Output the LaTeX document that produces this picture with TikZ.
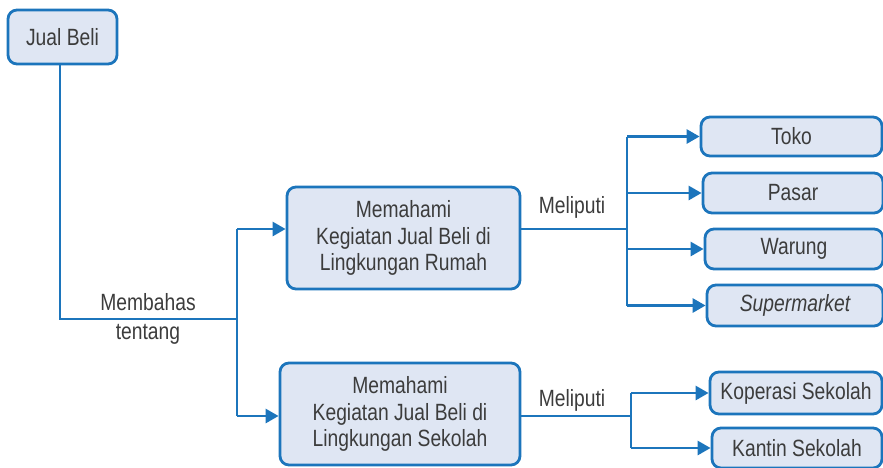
\documentclass[tikz,border=0pt]{standalone}
\usepackage{fontspec}
\setmainfont[FakeStretch=0.82]{Liberation Sans}
\newfontfamily\itfont[FakeStretch=0.82]{Liberation Sans Italic}
\usetikzlibrary{arrows.meta}
\definecolor{bblue}{HTML}{1C75BC}
\definecolor{bfill}{HTML}{DFE6F3}
\definecolor{tgray}{HTML}{3C3C3C}
\tikzset{
  box/.style={draw=bblue, line width=2.8pt, fill=bfill, rounded corners=9pt, text=tgray, align=center, inner sep=0pt, font=\fontsize{23.5}{26.5}\selectfont},
  conn/.style={draw=bblue, line width=2.8pt},
  arr/.style={conn, -{Triangle[length=13pt,width=14pt]}},
  lbl/.style={text=tgray, font=\fontsize{23.5}{26}\selectfont, inner sep=0pt}
}
\begin{document}
\begin{tikzpicture}[x=1pt,y=-1pt]
\useasboundingbox (0,0) rectangle (883,467);
% nodes
\node[box, minimum width=109pt, minimum height=54pt] (jb) at (62.5,37) {Jual Beli};
\node[box, minimum width=233pt, minimum height=102pt] (rumah) at (403.5,238) {Memahami\\Kegiatan Jual Beli di\\Lingkungan Rumah};
\node[box, minimum width=240pt, minimum height=102pt] (sekolah) at (400,414) {Memahami\\Kegiatan Jual Beli di\\Lingkungan Sekolah};
\node[box, minimum width=181pt, minimum height=39pt] (toko) at (791.5,136.5) {Toko};
\node[box, minimum width=180pt, minimum height=40pt] (pasar) at (793,193) {Pasar};
\node[box, minimum width=178pt, minimum height=40pt] (warung) at (794,249) {Warung};
\node[box, minimum width=176pt, minimum height=41pt] (super) at (795,305.5) {\itfont Supermarket};
\node[box, minimum width=172pt, minimum height=42pt] (kop) at (796,393) {Koperasi Sekolah};
\node[box, minimum width=170pt, minimum height=40pt] (kantin) at (797,448) {Kantin Sekolah};
% coordinates
\coordinate (c1) at (60,319);
\coordinate (c2) at (237,319);
\coordinate (ry) at (627,229);
\coordinate (sy) at (631,416);
% left connectors
\draw[conn] (jb.south -| c1) -- (c1) -- (c2);
\draw[conn] (c2 |- ry) -- (c2 |- sy);
\draw[arr] (c2 |- ry) -- (rumah.west |- ry);
\draw[arr] (c2 |- sy) -- (sekolah.west |- sy);
\node[lbl] (mb) at (148,302) {Membahas};
\node[lbl] (tt) at (148,334) {tentang};
% rumah branch
\draw[conn] (rumah.east |- ry) -- (ry);
\node[lbl] (m1) at (572,207) {Meliputi};
\draw[conn] (ry |- toko.west) -- (ry |- super.west);
\draw[arr] (ry |- toko.west) -- (toko.west);
\draw[arr] (ry |- pasar.west) -- (pasar.west);
\draw[arr] (ry |- warung.west) -- (warung.west);
\draw[arr] (ry |- super.west) -- (super.west);
% sekolah branch
\draw[conn] (sekolah.east |- sy) -- (sy);
\node[lbl] (m2) at (572,400) {Meliputi};
\draw[conn] (sy |- kop.west) -- (sy |- kantin.west);
\draw[arr] (sy |- kop.west) -- (kop.west);
\draw[arr] (sy |- kantin.west) -- (kantin.west);
\end{tikzpicture}
\end{document}
